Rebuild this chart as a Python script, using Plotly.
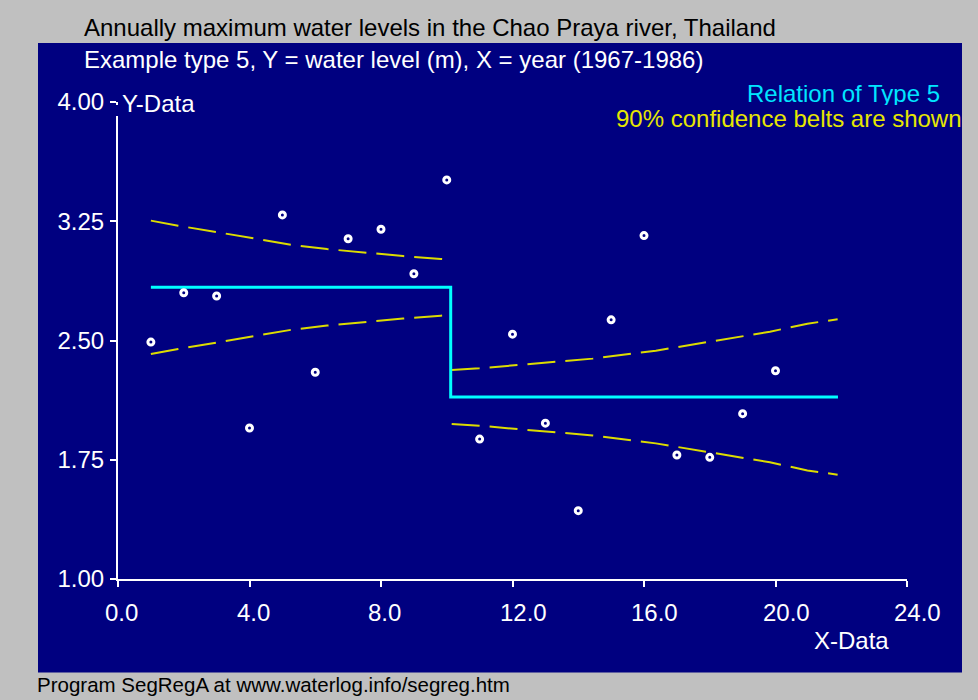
import plotly.graph_objects as go

# ---------------- data ----------------
years_x = [1, 2, 3, 4, 5, 6, 7, 8, 9, 10, 11, 12, 13, 14, 15, 16, 17, 18, 19, 20]
water_level = [2.49, 2.80, 2.78, 1.95, 3.29, 2.30, 3.14, 3.20, 2.92, 3.51,
               1.88, 2.54, 1.98, 1.43, 2.63, 3.16, 1.78, 1.765, 2.04, 2.31]

step_x = [1.0, 10.12, 10.12, 21.9]
step_y = [2.835, 2.835, 2.145, 2.145]

belt1_x = [1.00, 1.83, 3.00, 4.14, 5.29, 6.36, 7.51, 8.67, 9.82, 10.1]
belt1_upper = [3.254, 3.222, 3.182, 3.140, 3.101, 3.075, 3.052, 3.031, 3.013, 3.009]
belt1_lower = [2.415, 2.447, 2.487, 2.529, 2.568, 2.594, 2.617, 2.638, 2.656, 2.660]

belt2_x = [10.15, 10.99, 12.15, 13.29, 14.44, 16.36, 17.52, 18.67, 19.83, 20.97, 21.89]
belt2_upper = [2.314, 2.325, 2.346, 2.367, 2.386, 2.436, 2.476, 2.514, 2.555, 2.606, 2.633]
belt2_lower = [1.975, 1.964, 1.943, 1.922, 1.903, 1.853, 1.813, 1.775, 1.734, 1.683, 1.656]

x_tick_vals = [0, 4, 8, 12, 16, 20, 24]
x_tick_labels = ["0.0", "4.0", "8.0", "12.0", "16.0", "20.0", "24.0"]
y_tick_vals = [1.00, 1.75, 2.50, 3.25, 4.00]
y_tick_labels = ["1.00", "1.75", "2.50", "3.25", "4.00"]

# ---------------- layout geometry (pixels) ----------------
W, H = 978, 700
L, R, T, B = 118, 907, 102, 579
NAVY = "#000080"
FONT = "Liberation Sans, Arial, sans-serif"


def px(xp):
    return (xp - L) / (R - L)


def py(yp):
    return (B - yp) / (B - T)


fig = go.Figure()

belt_style = dict(color="#dcdc00", width=2, dash="28px,10px")
for bx, by in [(belt1_x, belt1_upper), (belt1_x, belt1_lower),
               (belt2_x, belt2_upper), (belt2_x, belt2_lower)]:
    fig.add_trace(go.Scatter(x=bx, y=by, mode="lines", line=belt_style,
                             hoverinfo="skip", showlegend=False))

fig.add_trace(go.Scatter(x=step_x, y=step_y, mode="lines",
                         line=dict(color="#00ffff", width=3),
                         showlegend=False))

fig.add_trace(go.Scatter(x=years_x, y=water_level, mode="markers",
                         marker=dict(symbol="circle", size=6, color=NAVY,
                                     line=dict(color="white", width=3)),
                         showlegend=False))

shapes = [
    dict(type="rect", xref="paper", yref="paper", layer="below",
         x0=px(38), x1=px(962), y0=py(672.5), y1=py(43),
         fillcolor=NAVY, line=dict(width=0)),
    dict(type="rect", xref="paper", yref="paper", layer="above",
         x0=px(116), x1=px(120.5), y0=py(116), y1=py(105),
         fillcolor=NAVY, line=dict(width=0)),
]

ann = []


def text(t, x, y, size=24, color="white", xanchor="left", bg=None):
    d = dict(text=t, xref="paper", yref="paper", x=px(x), y=py(y),
             xanchor=xanchor, yanchor="middle", showarrow=False,
             font=dict(family=FONT, size=size, color=color),
             borderpad=0, borderwidth=0)
    if bg:
        d["bgcolor"] = bg
    ann.append(d)


text("Annually maximum water levels in the Chao Praya river, Thailand", 84, 28, color="black")
text("Example type 5, Y = water level (m), X = year (1967-1986)", 84, 59)
text("Relation of Type 5", 940, 93.5, color="#00e5ff", xanchor="right")
text("90% confidence belts are shown", 962, 118, color="#e6e600", xanchor="right", bg=NAVY)
text("Y-Data", 122, 103.5)
text("X-Data", 851, 640, xanchor="center")
text("Program SegRegA at www.waterlog.info/segreg.htm", 37, 684, size=20.5, color="black")

for v, lab in zip(x_tick_vals, x_tick_labels):
    ann.append(dict(text=lab, xref="x", yref="paper", x=v, y=py(612),
                    xanchor="left", yanchor="middle", xshift=-13, showarrow=False,
                    font=dict(family=FONT, size=24, color="white"),
                    borderpad=0, borderwidth=0))

fig.update_layout(
    width=W, height=H,
    margin=dict(l=L, r=W - R, t=T, b=H - B, pad=0),
    paper_bgcolor="#c0c0c0",
    plot_bgcolor="rgba(0,0,0,0)",
    showlegend=False,
    shapes=shapes,
    annotations=ann,
    font=dict(family=FONT, size=24, color="white"),
)

fig.update_xaxes(range=[0, 24], tickvals=x_tick_vals, showticklabels=False,
                 ticks="outside", ticklen=6, tickwidth=2, tickcolor="white",
                 showline=True, linecolor="white", linewidth=2,
                 showgrid=False, zeroline=False, fixedrange=True)
fig.update_yaxes(range=[1, 4], tickvals=y_tick_vals, ticktext=y_tick_labels,
                 ticks="outside", ticklen=6, tickwidth=2, tickcolor="white",
                 tickfont=dict(family=FONT, size=24, color="white"),
                 ticklabelstandoff=1,
                 showline=True, linecolor="white", linewidth=2,
                 showgrid=False, zeroline=False, fixedrange=True)

fig.write_html("out.html", config={"displayModeBar": False},
               post_script="document.body.style.margin='0';document.body.style.overflow='hidden';")
